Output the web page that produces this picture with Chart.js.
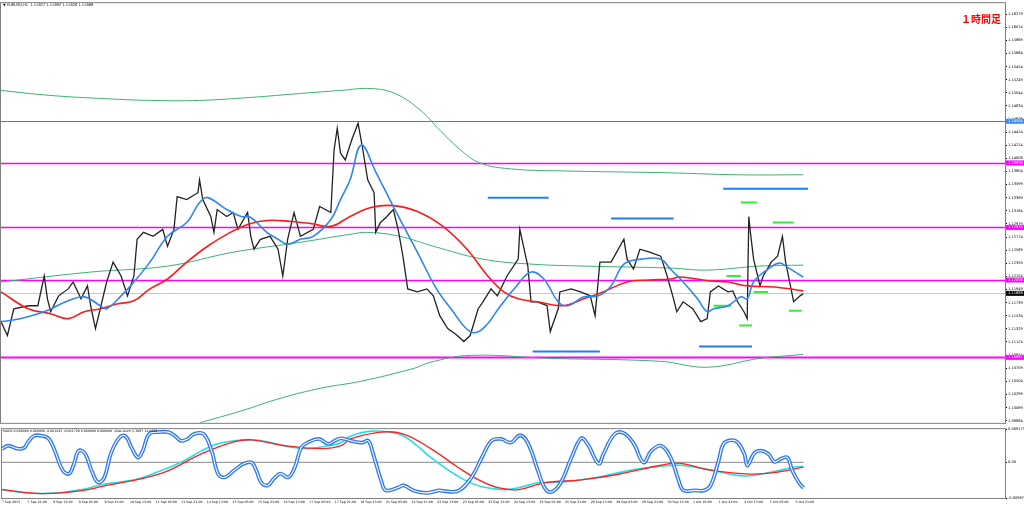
<!DOCTYPE html>
<html>
<head>
<meta charset="utf-8">
<script src="https://cdn.jsdelivr.net/npm/chart.js@4.4.0/dist/chart.umd.min.js"></script>
<style>
html, body { margin: 0; padding: 0; background: #fff; width: 1024px; height: 505px; overflow: hidden; font-family: "DejaVu Sans", sans-serif; }
#top { position: absolute; left: 0; top: 0; width: 1024px; height: 426px; }
#bot { position: absolute; left: 0; top: 426px; width: 1024px; height: 79px; }
#hdr { position: absolute; left: 3px; top: 3px; font-size: 3.6px; color: #000; white-space: nowrap; }
#mhdr { position: absolute; left: 3px; top: 429px; font-size: 3.2px; color: #000; white-space: nowrap; }
#tf { position: absolute; left: 961px; top: 11px; font: bold 10px "Noto Sans CJK JP", sans-serif; color: #ff0000; }
</style>
</head>
<body>
<div id="top"><canvas id="priceChart"></canvas></div>
<div id="bot"><canvas id="macdChart"></canvas></div>
<div id="hdr">&#9660; EURUSD,H1&nbsp; 1.11827 1.11892 1.11826 1.11888</div>
<div id="mhdr">MACD 0.000000 0.000000 -0.001643 -0.001720 0.000000 0.000000&nbsp; slow-stoch 5.3087 14.6633</div>
<div id="tf">１時間足</div>
<script>
// time axis: one label every 16 hourly bars
const timeLabels = ['7 Sep 2015', '7 Sep 21:00', '8 Sep 13:00', '9 Sep 05:00', '9 Sep 21:00', '10 Sep 13:00',
    '11 Sep 05:00', '11 Sep 21:00', '14 Sep 13:00', '15 Sep 05:00', '15 Sep 21:00', '16 Sep 13:00',
    '17 Sep 05:00', '17 Sep 21:00', '18 Sep 13:00', '21 Sep 05:00', '21 Sep 21:00', '22 Sep 13:00',
    '23 Sep 05:00', '23 Sep 21:00', '24 Sep 13:00', '25 Sep 05:00', '25 Sep 21:00', '28 Sep 13:00',
    '29 Sep 05:00', '29 Sep 21:00', '30 Sep 13:00', '1 Oct 05:00', '1 Oct 21:00', '2 Oct 13:00',
    '5 Oct 05:00', '5 Oct 21:00'];
const barsPerLabel = 16;
const barsShown = 627;

const priceTicks = [1.16279, 1.16074, 1.15869, 1.15664, 1.15454, 1.15249, 1.15044, 1.14834, 1.14629, 1.14424,
    1.14214, 1.14008, 1.13804, 1.13599, 1.13389, 1.13184, 1.12979, 1.12774, 1.12569, 1.12359, 1.12154,
    1.11949, 1.11739, 1.11534, 1.11329, 1.11124, 1.10914, 1.10709, 1.10504, 1.10299, 1.10089, 1.09884];
const macdTicks = [0.009175, 0, -0.009871];

// [bar, price] (highs / lows / closes)
const price = [[0,1.11443],[4,1.11225],[8,1.11646],[17,1.11693],[23,1.11693],[27,1.12161],[29,1.11802],[31,1.11599],
    [36,1.11849],[42,1.11958],[45,1.12067],[50,1.11802],[54,1.12005],[56,1.11693],[59,1.11334],[62,1.11646],
    [66,1.12067],[70,1.12379],[75,1.12161],[79,1.11849],[83,1.12161],[85,1.12738],[89,1.12847],[95,1.12785],
    [101,1.12894],[104,1.12629],[108,1.12894],[110,1.13409],[116,1.13362],[123,1.13471],[124,1.13674],[126,1.13362],
    [131,1.13097],[133,1.12847],[135,1.13206],[141,1.13097],[145,1.13159],[148,1.12894],[154,1.13159],[156,1.12785],
    [158,1.12582],[162,1.12738],[168,1.12785],[173,1.12582],[176,1.12161],[179,1.12738],[183,1.13159],[187,1.12785],
    [195,1.12894],[199,1.13253],[206,1.13159],[208,1.14142],[210,1.14485],[212,1.14095],[215,1.13986],[219,1.14298],
    [223,1.14563],[226,1.14142],[229,1.13674],[233,1.13471],[234,1.12847],[237,1.13003],[241,1.13097],[245,1.13206],
    [248,1.12894],[251,1.12473],[254,1.11958],[260,1.11911],[266,1.11958],[270,1.11849],[274,1.11537],[279,1.11334],
    [285,1.11225],[289,1.11131],[293,1.11225],[298,1.11646],[301,1.11755],[306,1.11958],[310,1.11849],[316,1.12161],
    [323,1.12426],[324,1.12894],[329,1.12317],[331,1.11755],[335,1.11755],[341,1.11693],[343,1.11287],[348,1.11646],
    [349,1.11911],[356,1.11958],[362,1.11911],[368,1.11849],[371,1.11537],[374,1.12379],[381,1.12379],[389,1.12738],
    [391,1.12426],[395,1.1227],[399,1.12582],[405,1.12535],[412,1.12473],[416,1.12161],[420,1.11802],[422,1.11599],
    [426,1.11755],[432,1.11646],[437,1.11443],[441,1.1149],[443,1.11911],[448,1.12005],[454,1.11911],[457,1.11927],
    [460,1.11755],[464,1.11599],[466,1.1149],[467,1.13097],[468,1.12847],[470,1.12426],[474,1.12005],[476,1.12161],
    [481,1.12379],[485,1.12473],[488,1.12785],[490,1.12379],[493,1.12005],[495,1.11755],[499,1.11849],[501,1.1188]];

const fastMA = [[0,1.11443],[12,1.1149],[27,1.11599],[42,1.11771],[52,1.11833],[62,1.11693],[66,1.11646],[75,1.11849],
    [83,1.12067],[93,1.12379],[104,1.12785],[116,1.13003],[124,1.13315],[129,1.13393],[141,1.13206],[150,1.13097],
    [156,1.13081],[166,1.12847],[173,1.12738],[179,1.1266],[187,1.12738],[195,1.12785],[206,1.1305],[212,1.13362],
    [218,1.13674],[225,1.1422],[234,1.13799],[245,1.13253],[260,1.12535],[272,1.11958],[281,1.11646],[293,1.11287],
    [301,1.11334],[312,1.11693],[322,1.12005],[331,1.12223],[339,1.12114],[348,1.11755],[354,1.11693],[364,1.11833],
    [373,1.11849],[381,1.12005],[389,1.12348],[400,1.12426],[412,1.12426],[418,1.1227],[426,1.12067],[435,1.11802],
    [441,1.11599],[445,1.11646],[454,1.11693],[462,1.11833],[466,1.11802],[470,1.12067],[479,1.1227],[486,1.12364],
    [491,1.12301],[501,1.12145]];

const slowMA = [[0,1.11911],[17,1.11646],[31,1.11568],[42,1.1149],[52,1.11599],[62,1.11646],[73,1.11724],[83,1.11771],
    [93,1.11958],[104,1.12114],[116,1.12379],[129,1.12629],[141,1.12816],[154,1.12972],[166,1.13034],[181,1.13019],
    [193,1.12988],[206,1.12941],[218,1.13097],[231,1.13237],[245,1.13268],[260,1.13175],[276,1.12941],[291,1.12582],
    [304,1.12161],[314,1.11911],[323,1.11802],[335,1.11755],[351,1.11693],[364,1.11802],[376,1.11911],[391,1.12067],
    [405,1.12098],[418,1.12114],[424,1.12145],[443,1.12083],[454,1.12067],[466,1.12005],[483,1.11989],[501,1.11927]];

const bandUpper = [[0,1.15078],[31,1.15],[62,1.14953],[93,1.14922],[124,1.14922],[156,1.14969],[187,1.15031],
    [212,1.15078],[231,1.15109],[246,1.15031],[262,1.14766],[274,1.14454],[287,1.14142],[299,1.13939],[318,1.13846],
    [350,1.13814],[418,1.13783],[460,1.13752],[501,1.13752]];
const bandMiddle = [[0,1.12067],[56,1.12223],[104,1.12317],[145,1.12535],[187,1.12691],[218,1.12816],[229,1.12847],
    [249,1.12785],[270,1.12629],[301,1.12426],[331,1.12348],[364,1.12317],[418,1.12286],[441,1.12254],[474,1.12317],
    [501,1.12332]];
const bandLower = [[124,1.09852],[150,1.10039],[175,1.10242],[200,1.10398],[225,1.10507],[258,1.1071],[268,1.10804],
    [293,1.10913],[343,1.10866],[412,1.10819],[441,1.10726],[474,1.10866],[501,1.10928]];

// horizontal levels
const blueLevel = 1.14594;
const magentaLevels = [1.13939, 1.12925, 1.12098, 1.10882];
const lastClose = 1.11888;

// short drawn segments: [fromBar, toBar, price]
const blueSegs = [[304,342,1.13393],[381,420,1.13066],[332,374,1.10975],[451,504,1.13534],[436,469,1.11053]];
const greenSegs = [[462,472,1.13315],[482,495,1.13003],[453,462,1.12161],[470,479,1.11911],[445,456,1.11693],
    [461,469,1.11381],[492,500,1.11615]];

// lower panel
const macdMain = [[0,-0.00756],[12,-0.00837],[25,-0.00864],[37,-0.00837],[50,-0.00756],[62,-0.00621],[75,-0.0054],
    [87,-0.00432],[100,-0.00216],[112,0],[125,0.00324],[135,0.00513],[145,0.00594],[156,0.00621],[166,0.00567],
    [179,0.00432],[191,0.00378],[204,0.00459],[212,0.0054],[218,0.00729],[231,0.00864],[248,0.00783],[258,0.00513],
    [268,0.00135],[279,-0.00216],[289,-0.00486],[300,-0.00675],[314,-0.00756],[323,-0.00702],[335,-0.00567],
    [351,-0.0054],[373,-0.00405],[393,-0.00216],[412,-0.00108],[424,-0.00081],[443,-0.00216],[464,-0.00378],
    [481,-0.0027],[495,-0.00135],[501,-0.00108]];
const macdSignal = [[0,-0.00756],[25,-0.00864],[50,-0.00783],[62,-0.00675],[100,-0.00297],[125,0.00243],[145,0.00567],
    [156,0.00621],[177,0.00459],[200,0.00378],[212,0.00459],[218,0.00648],[237,0.00837],[251,0.00783],[268,0.00378],
    [285,-0.00135],[298,-0.00486],[310,-0.00702],[323,-0.00756],[339,-0.00567],[362,-0.00486],[383,-0.00351],
    [412,-0.00081],[424,-0.00027],[443,-0.00216],[468,-0.00324],[485,-0.0027],[501,-0.00135]];
const stoch = [[0,73],[4,78],[10,73],[14,75],[16,83],[20,94],[25,94],[29,90],[33,70],[38,38],[42,33],[45,49],[48,70],
    [52,65],[56,38],[60,19],[64,27],[68,65],[73,90],[77,94],[81,75],[85,59],[88,70],[92,97],[98,100],[104,100],
    [108,94],[112,86],[116,89],[120,97],[126,97],[131,70],[135,33],[139,27],[145,38],[151,49],[156,51],[159,38],
    [162,19],[166,14],[170,25],[174,33],[179,27],[183,43],[187,75],[191,83],[198,89],[204,81],[208,86],[212,90],
    [218,86],[225,83],[229,86],[232,65],[237,22],[240,6],[248,11],[251,14],[258,5],[266,2],[273,6],[276,5],[285,5],
    [293,25],[300,59],[306,86],[312,89],[318,83],[324,95],[329,81],[335,38],[339,11],[343,3],[349,17],[356,59],
    [362,90],[366,81],[373,49],[376,65],[383,97],[389,98],[395,81],[401,51],[406,70],[412,78],[418,59],[423,22],
    [426,6],[433,6],[439,6],[443,14],[448,54],[451,81],[456,87],[460,83],[464,65],[466,46],[470,65],[474,70],
    [479,65],[483,52],[487,57],[491,59],[494,38],[498,19],[501,10]];

const pts = arr => arr.map(p => ({ x: p[0], y: p[1] }));
const line = (arr, color, width, order, extra) => Object.assign({
    data: pts(arr), borderColor: color, borderWidth: width, pointRadius: 0, fill: false, order: order
}, extra || {});
const seg = (s, color, order) => line([[s[0], s[2]], [s[1], s[2]]], color, 2, order);

const axisFont = { size: 3.6, family: 'DejaVu Sans' };

// frame round the panel + price boxes on the right axis
const panelFrame = {
    id: 'panelFrame',
    beforeDatasetsDraw(chart, args, opts) {
        const { ctx, chartArea: a } = chart;
        const y = chart.scales.y;
        ctx.save();
        (opts.levels || []).forEach(l => {
            const py = Math.round(y.getPixelForValue(l.value)) + 0.5;
            ctx.strokeStyle = l.color;
            ctx.lineWidth = l.width;
            ctx.beginPath();
            ctx.moveTo(a.left, py);
            ctx.lineTo(a.right, py);
            ctx.stroke();
        });
        ctx.restore();
    },
    afterDraw(chart, args, opts) {
        const { ctx, chartArea: a } = chart;
        const y = chart.scales.y;
        ctx.save();
        ctx.strokeStyle = '#7f7f7f';
        ctx.lineWidth = 1;
        ctx.strokeRect(a.left - 0.5, a.top - 0.5, a.right - a.left + 1, a.bottom - a.top + 1);
        (opts.levels || []).filter(l => l.box).forEach(l => {
            const py = y.getPixelForValue(l.value);
            ctx.fillStyle = l.box;
            ctx.fillRect(a.right + 1, py - 2.5, 18, 5);
            ctx.fillStyle = '#fff';
            ctx.font = '3.6px "DejaVu Sans"';
            ctx.textBaseline = 'middle';
            ctx.fillText(l.value.toFixed(5), a.right + 3, py);
        });
        ctx.restore();
    }
};

const levels = [{ value: lastClose, color: '#c8c8c8', width: 1, box: '#000' },
    { value: blueLevel, color: '#3c7fd6', width: 1, box: '#3c8cf0' }]
    .concat(magentaLevels.map((v, i) => ({ value: v, color: '#ff00ff', width: i === magentaLevels.length - 1 ? 2 : 1.5, box: '#ff00ff' })));

const priceSets = [
    line(fastMA, '#2f86f0', 1.6, 1, { tension: 0.4 }),
    line(slowMA, '#ff1a1a', 1.6, 2, { tension: 0.4 }),
    line(price, '#222', 1.3, 3, { tension: 0 }),
    line(bandUpper, '#3cb371', 1, 5, { tension: 0.4 }),
    line(bandMiddle, '#3cb371', 1, 5, { tension: 0.4 }),
    line(bandLower, '#3cb371', 1, 5, { tension: 0.4 })
].concat(blueSegs.map(s => seg(s, '#1e7ff0', 4)), greenSegs.map(s => seg(s, '#33ee33', 4)));

new Chart(document.getElementById('priceChart'), {
    type: 'line',
    data: { datasets: priceSets },
    plugins: [panelFrame],
    options: {
        animation: false, responsive: true, maintainAspectRatio: false, devicePixelRatio: 1,
        layout: { padding: { left: 1, top: 2, bottom: 1, right: 0 } },
        plugins: { legend: { display: false }, tooltip: { enabled: false }, panelFrame: { levels: levels } },
        scales: {
            x: { type: 'linear', min: 0, max: barsShown, display: false },
            y: {
                position: 'right', min: 1.09852, max: 1.16451,
                afterBuildTicks: s => { s.ticks = priceTicks.map(v => ({ value: v })); },
                afterFit: s => { s.width = 19; },
                grid: { drawOnChartArea: false, tickLength: 2, color: '#000' },
                border: { color: '#7f7f7f' },
                ticks: { font: axisFont, color: '#000', padding: 1, autoSkip: false, callback: v => v.toFixed(5) }
            }
        }
    }
});

const lastBar = price[price.length - 1][0];
const macdSets = [
    line(stoch, '#ffffff', 1.1, 1, { tension: 0.4, yAxisID: 'ys' }),
    line(stoch, '#2f78f0', 3.8, 2, { tension: 0.4, yAxisID: 'ys' }),
    line(macdSignal, '#ff2020', 1.3, 3, { tension: 0.4 }),
    line(macdMain, '#22e0e8', 1.6, 4, { tension: 0.4 }),
    line([[0, 0], [lastBar, 0]], '#a0a0a0', 1.2, 5)
];

new Chart(document.getElementById('macdChart'), {
    type: 'line',
    data: { datasets: macdSets },
    plugins: [panelFrame],
    options: {
        animation: false, responsive: true, maintainAspectRatio: false, devicePixelRatio: 1,
        layout: { padding: { left: 1, top: 2, bottom: 0, right: 0 } },
        plugins: { legend: { display: false }, tooltip: { enabled: false }, panelFrame: { levels: [] } },
        scales: {
            x: {
                type: 'linear', min: 0, max: barsShown,
                afterBuildTicks: s => { s.ticks = timeLabels.map((t, i) => ({ value: i * barsPerLabel })); },
                afterFit: s => { s.height = 7; },
                grid: { display: false, drawTicks: false },
                border: { color: '#7f7f7f' },
                ticks: {
                    font: { size: 3.2, family: 'DejaVu Sans' }, color: '#000', padding: 2, align: 'start',
                    maxRotation: 0, autoSkip: false,
                    callback: v => timeLabels[Math.round(v / barsPerLabel)]
                }
            },
            y: {
                position: 'right', min: -0.009871, max: 0.009175,
                afterBuildTicks: s => { s.ticks = macdTicks.map(v => ({ value: v })); },
                afterFit: s => { s.width = 19; },
                grid: { drawOnChartArea: false, tickLength: 2, color: '#000' },
                border: { color: '#7f7f7f' },
                ticks: { font: axisFont, color: '#000', padding: 1, autoSkip: false,
                    callback: v => v === 0 ? '0.00' : v.toFixed(6) }
            },
            ys: { display: false, min: -6.3, max: 104.8 }
        }
    }
});
</script>
</body>
</html>
